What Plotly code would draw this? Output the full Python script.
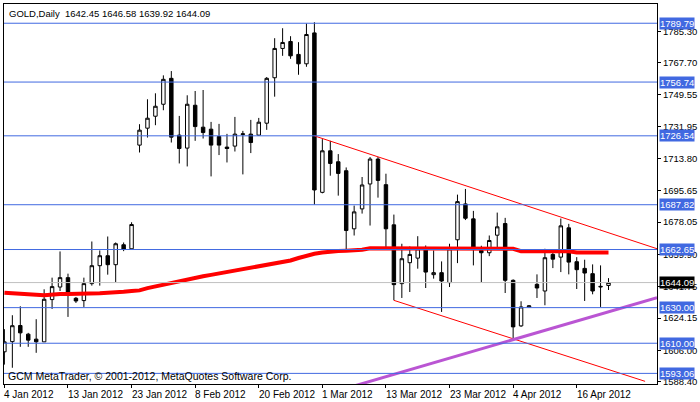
import plotly.graph_objects as go

# ---- data ----
opens = [1605.19, 1610.90, 1619.97, 1615.10, 1612.30, 1610.79, 1634.53, 1641.59, 1646.85, 1635.26,
         1633.97, 1643.49, 1653.57, 1659.17, 1654.13, 1665.33, 1663.09, 1721.32, 1730.83, 1737.55,
         1744.27, 1758.83, 1726.92, 1719.64, 1743.71, 1731.39, 1730.27, 1726.13, 1720.20, 1720.76,
         1727.25, 1727.48, 1726.92, 1733.63, 1759.17, 1775.63, 1779.55, 1772.27, 1767.00, 1784.36,
         1694.78, 1718.12, 1711.97, 1706.93, 1674.29, 1685.48, 1699.48, 1713.48, 1699.09, 1676.52,
         1643.49, 1655.25, 1657.82, 1663.09, 1648.53, 1649.65, 1644.05, 1668.13, 1688.28, 1679.88,
         1662.13, 1660.85, 1670.70, 1677.25, 1645.34, 1619.75, 1630.39, 1643.10, 1639.35, 1659.90,
         1658.38, 1674.84, 1655.81, 1652.06, 1649.09, 1641.98, 1642.45]
highs = [1617.90, 1625.74, 1630.78, 1615.83, 1623.50, 1640.30, 1646.85, 1661.58, 1649.09, 1635.99,
         1646.85, 1667.17, 1662.13, 1669.97, 1666.61, 1666.61, 1677.98, 1733.07, 1747.07, 1750.43,
         1760.51, 1762.92, 1737.72, 1749.31, 1751.72, 1752.28, 1734.36, 1733.24, 1727.64, 1737.16,
         1729.32, 1735.48, 1736.60, 1759.56, 1781.39, 1786.99, 1782.51, 1779.15, 1789.62, 1790.35,
         1724.68, 1723.72, 1716.28, 1708.78, 1687.33, 1703.40, 1714.60, 1714.60, 1705.25, 1682.29,
         1665.89, 1664.37, 1670.14, 1664.93, 1662.13, 1655.98, 1665.89, 1693.49, 1696.68, 1684.36,
         1664.77, 1670.53, 1683.41, 1680.44, 1645.90, 1633.58, 1631.34, 1648.70, 1663.09, 1662.13,
         1680.05, 1677.08, 1658.38, 1656.93, 1654.30, 1653.74, 1646.58]
lows = [1598.00, 1596.23, 1607.99, 1607.99, 1604.63, 1610.79, 1629.27, 1639.35, 1624.79, 1632.63,
        1630.39, 1642.37, 1642.37, 1648.53, 1644.39, 1661.74, 1663.09, 1717.17, 1725.57, 1732.51,
        1740.91, 1722.77, 1711.01, 1709.33, 1723.72, 1725.01, 1703.74, 1715.72, 1711.57, 1717.73,
        1704.86, 1716.84, 1726.52, 1729.88, 1748.53, 1771.48, 1769.80, 1760.85, 1765.32, 1687.89,
        1694.22, 1704.13, 1692.93, 1662.53, 1670.53, 1682.85, 1676.13, 1691.81, 1663.09, 1634.14,
        1635.43, 1638.79, 1651.89, 1641.03, 1646.29, 1627.59, 1641.59, 1655.02, 1679.21, 1653.74,
        1644.39, 1658.94, 1663.98, 1638.23, 1612.86, 1619.19, 1630.05, 1635.43, 1631.34, 1652.22,
        1649.98, 1648.70, 1640.47, 1633.75, 1637.50, 1630.39, 1639.92]
closes = [1610.79, 1619.86, 1615.83, 1611.74, 1610.79, 1634.70, 1641.81, 1646.85, 1638.62, 1633.75,
          1643.49, 1653.57, 1659.17, 1654.13, 1665.89, 1662.69, 1676.69, 1729.71, 1736.43, 1743.15,
          1758.27, 1725.80, 1719.41, 1744.27, 1731.73, 1728.37, 1721.32, 1721.32, 1719.41, 1727.48,
          1727.64, 1722.77, 1734.19, 1758.83, 1775.63, 1778.99, 1771.48, 1767.00, 1783.47, 1696.12,
          1718.12, 1711.01, 1705.41, 1673.33, 1683.80, 1698.92, 1713.48, 1701.50, 1674.29, 1642.93,
          1657.49, 1659.90, 1663.09, 1649.98, 1649.65, 1644.95, 1663.09, 1689.57, 1680.22, 1663.65,
          1660.85, 1667.73, 1675.40, 1645.34, 1619.19, 1630.39, 1630.95, 1641.03, 1658.05, 1657.26,
          1675.96, 1655.58, 1651.33, 1649.43, 1639.35, 1641.70, 1644.09]
ma = [1638.4, 1638.0, 1637.5, 1637.5, 1637.2, 1636.9, 1637.4, 1637.7, 1637.7, 1637.7,
      1637.7, 1637.7, 1638.1, 1638.4, 1638.4, 1638.9, 1639.3, 1639.7, 1641.0, 1642.0,
      1643.0, 1644.0, 1645.0, 1646.0, 1646.8, 1647.6, 1648.4, 1649.2, 1649.9, 1650.8,
      1651.7, 1652.5, 1653.2, 1653.8, 1654.8, 1655.7, 1656.5, 1657.9, 1659.2, 1660.3,
      1661.0, 1661.6, 1661.8, 1662.0, 1662.3, 1662.5, 1663.4, 1663.4, 1663.4, 1663.4,
      1663.4, 1663.4, 1663.4, 1663.4, 1663.4, 1663.4, 1663.4, 1663.1, 1663.1, 1663.1,
      1663.1, 1663.1, 1663.1, 1663.1, 1663.1, 1661.7, 1661.7, 1661.7, 1661.7, 1661.7,
      1661.7, 1661.7, 1661.0, 1661.0, 1661.0, 1661.0, 1661.0]
bars = list(range(len(opens)))

date_ticks = [0, 8, 16, 24, 32, 40, 48, 56, 64, 72]
date_labels = ["4 Jan 2012", "13 Jan 2012", "23 Jan 2012", "8 Feb 2012", "20 Feb 2012",
               "1 Mar 2012", "13 Mar 2012", "23 Mar 2012", "4 Apr 2012", "16 Apr 2012"]
price_ticks = [1785.30, 1767.70, 1749.55, 1731.95, 1713.80, 1695.65, 1678.05,
               1659.90, 1641.75, 1624.15, 1606.00, 1588.40]
levels = [1789.79, 1756.74, 1726.54, 1687.82, 1662.65, 1630.00, 1610.00, 1593.06]
last_price = 1644.09

upper_trend_x = [39, 82.1]
upper_trend_y = [1726.5, 1663.1]
lower_trend_x = [49, 80.6]
lower_trend_y = [1634.1, 1588.6]
purple_x = [44, 82.1]
purple_y = [1586.0, 1635.65]

FONT = "Liberation Sans, Arial, sans-serif"
FS = 9.5

fig = go.Figure()
fig.add_trace(go.Candlestick(
    x=bars, open=opens, high=highs, low=lows, close=closes,
    increasing=dict(line=dict(color="black", width=1), fillcolor="white"),
    decreasing=dict(line=dict(color="black", width=1), fillcolor="black"),
    whiskerwidth=0, showlegend=False, hoverinfo="skip"))
fig.add_trace(go.Scatter(x=bars, y=ma, mode="lines",
                         line=dict(color="#FF0000", width=4), showlegend=False, hoverinfo="skip"))
fig.add_trace(go.Scatter(x=upper_trend_x, y=upper_trend_y, mode="lines",
                         line=dict(color="#FF0000", width=1), showlegend=False, hoverinfo="skip"))
fig.add_trace(go.Scatter(x=lower_trend_x, y=lower_trend_y, mode="lines",
                         line=dict(color="#FF0000", width=1), showlegend=False, hoverinfo="skip"))
fig.add_trace(go.Scatter(x=purple_x, y=purple_y, mode="lines",
                         line=dict(color="#BA55D3", width=3), showlegend=False, hoverinfo="skip"))

shapes = []
annotations = []
for lv in levels:
    shapes.append(dict(type="line", xref="paper", x0=0, x1=1, yref="y", y0=lv, y1=lv,
                       line=dict(color="#4169E1", width=1), layer="above"))
    annotations.append(dict(xref="paper", x=1, xanchor="left", xshift=2, yref="y", y=lv,
                            yanchor="middle", text=f"{lv:.2f}", showarrow=False,
                            bgcolor="#4169E1", borderpad=0,
                            font=dict(family=FONT, size=FS, color="white")))
shapes.append(dict(type="line", xref="paper", x0=0, x1=1, yref="y", y0=last_price, y1=last_price,
                   line=dict(color="#C0C0C0", width=1), layer="above"))
annotations.append(dict(xref="paper", x=1, xanchor="left", xshift=2, yref="y", y=last_price,
                        yanchor="middle", text=f"{last_price:.2f}", showarrow=False,
                        bgcolor="black", borderpad=0,
                        font=dict(family=FONT, size=FS, color="white")))
for t, lab in zip(date_ticks, date_labels):
    annotations.append(dict(xref="x", x=t, xanchor="left", xshift=-2, yref="paper", y=0,
                            yanchor="top", yshift=-3, text=lab, showarrow=False,
                            font=dict(family=FONT, size=10, color="black")))
annotations.append(dict(xref="paper", x=0, xanchor="left", xshift=3, yref="paper", y=1,
                        yanchor="top", yshift=-2,
                        text="GOLD,Daily\u00a0 1642.45 1646.58 1639.92 1644.09", showarrow=False,
                        font=dict(family=FONT, size=FS, color="black")))
annotations.append(dict(xref="paper", x=0, xanchor="left", xshift=2, yref="paper", y=0,
                        yanchor="bottom", yshift=0,
                        text="GCM MetaTrader, \u00a9 2001-2012, MetaQuotes Software Corp.",
                        showarrow=False, font=dict(family=FONT, size=10.5, color="black")))

fig.update_layout(
    width=700, height=402,
    margin=dict(l=3, r=40, t=3, b=18),
    paper_bgcolor="white", plot_bgcolor="white",
    boxgap=0.38,
    shapes=shapes, annotations=annotations,
    font=dict(family=FONT, size=FS, color="black"),
    xaxis=dict(range=[-0.05, 82.1], rangeslider=dict(visible=False), showgrid=False,
               zeroline=False, showline=True, linecolor="black", linewidth=1, mirror=True,
               ticks="outside", ticklen=3, tickcolor="black", tickvals=date_ticks,
               showticklabels=False, fixedrange=True),
    yaxis=dict(range=[1587.1, 1800.6], side="right", showgrid=False, zeroline=False,
               showline=True, linecolor="black", linewidth=1, mirror=True,
               ticks="outside", ticklen=3, tickcolor="black",
               tickvals=price_ticks, ticktext=[f"{p:.2f}" for p in price_ticks],
               tickfont=dict(family=FONT, size=FS, color="black"), fixedrange=True),
)

fig.write_html("out.html", config={"displayModeBar": False},
               post_script="document.body.style.margin='0';document.body.style.padding='0';"
                           "document.body.style.overflow='hidden';")
